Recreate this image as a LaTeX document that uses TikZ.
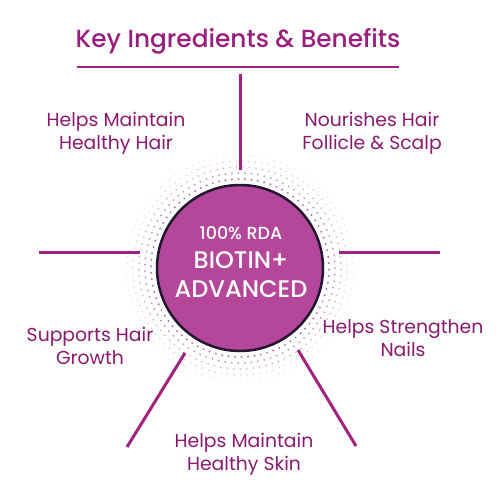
\documentclass[tikz,border=0pt]{standalone}
\usepackage{fontspec}
\setmainfont{Poppins}
\newfontfamily\popmed{Poppins Medium}
\definecolor{titlec}{HTML}{9A1E7C}
\definecolor{txt}{HTML}{8B1A6E}
\definecolor{spokec}{HTML}{A2237F}
\definecolor{corefill}{HTML}{B5479B}
\definecolor{rimc}{HTML}{22162F}
\definecolor{dotc}{HTML}{9A4E8E}
\begin{document}
\begin{tikzpicture}[x=1pt,y=-1pt,
  spoke/.style={draw=spokec,line width=3pt},
  label/.style={text=txt,font=\fontsize{18.8}{23}\selectfont,align=center,inner sep=0pt},
  coretext/.style={text=white,inner sep=0pt}]
\useasboundingbox[fill=white] (0,0) rectangle (500,500);
% halftone ring
\foreach \r/\s/\o in {89/1.1/0.75,95/1.0/0.6,101/0.9/0.45,107/0.8/0.3,113/0.7/0.18}{
  \pgfmathtruncatemacro\n{2*pi*\r/6.5}
  \pgfmathsetmacro\stp{360/\n}
  \foreach \i in {1,...,\n}{
    \pgfmathsetmacro\ang{\stp*\i+\r}
    \fill[dotc,opacity=\o] ({240+\r*cos(\ang)},{268+\r*sin(\ang)}) circle (\s);
  }
}
% title
\node[text=titlec,font=\popmed\fontsize{24.8}{28}\selectfont,inner sep=0pt] (title) at (238,41) {Key Ingredients \& Benefits};
\coordinate (ulA) at (77,67);
\coordinate (ulB) at (399,67);
\draw[draw=spokec,line width=2.5pt] (ulA) -- (ulB);
% core
\node[circle,fill=corefill,draw=rimc,line width=2.5pt,minimum size=166pt,inner sep=0pt] (core) at (240,268) {};
\node[coretext,font=\popmed\fontsize{17.5}{20}\selectfont] (rda) at (241,233) {100\% RDA};
\node[coretext,font=\popmed\fontsize{24}{26}\selectfont] (biotin) at (241,260) {BIOTIN+};
\node[coretext,font=\popmed\fontsize{24}{26}\selectfont] (adv) at (241,289) {ADVANCED};
% spokes
\coordinate (nA) at (240,74);  \coordinate (nB) at (240,170);
\coordinate (wA) at (39,252);  \coordinate (wB) at (140,252);
\coordinate (eA) at (339,252); \coordinate (eB) at (440,252);
\coordinate (swA) at (185,353); \coordinate (swB) at (127,447);
\coordinate (seA) at (298,350); \coordinate (seB) at (356,446);
\draw[spoke] (nA) -- (nB);
\draw[spoke] (wA) -- (wB);
\draw[spoke] (eA) -- (eB);
\draw[spoke] (swA) -- (swB);
\draw[spoke] (seA) -- (seB);
% labels
\node[label] (hair) at (116,133) {Helps Maintain\\Healthy Hair};
\node[label] (follicle) at (372,133) {Nourishes Hair\\Follicle \& Scalp};
\node[label] (growth) at (90,346) {Supports Hair\\Growth};
\node[label] (nails) at (403,338) {Helps Strengthen\\Nails};
\node[label] (skin) at (244,454) {Helps Maintain\\Healthy Skin};
\end{tikzpicture}
\end{document}
